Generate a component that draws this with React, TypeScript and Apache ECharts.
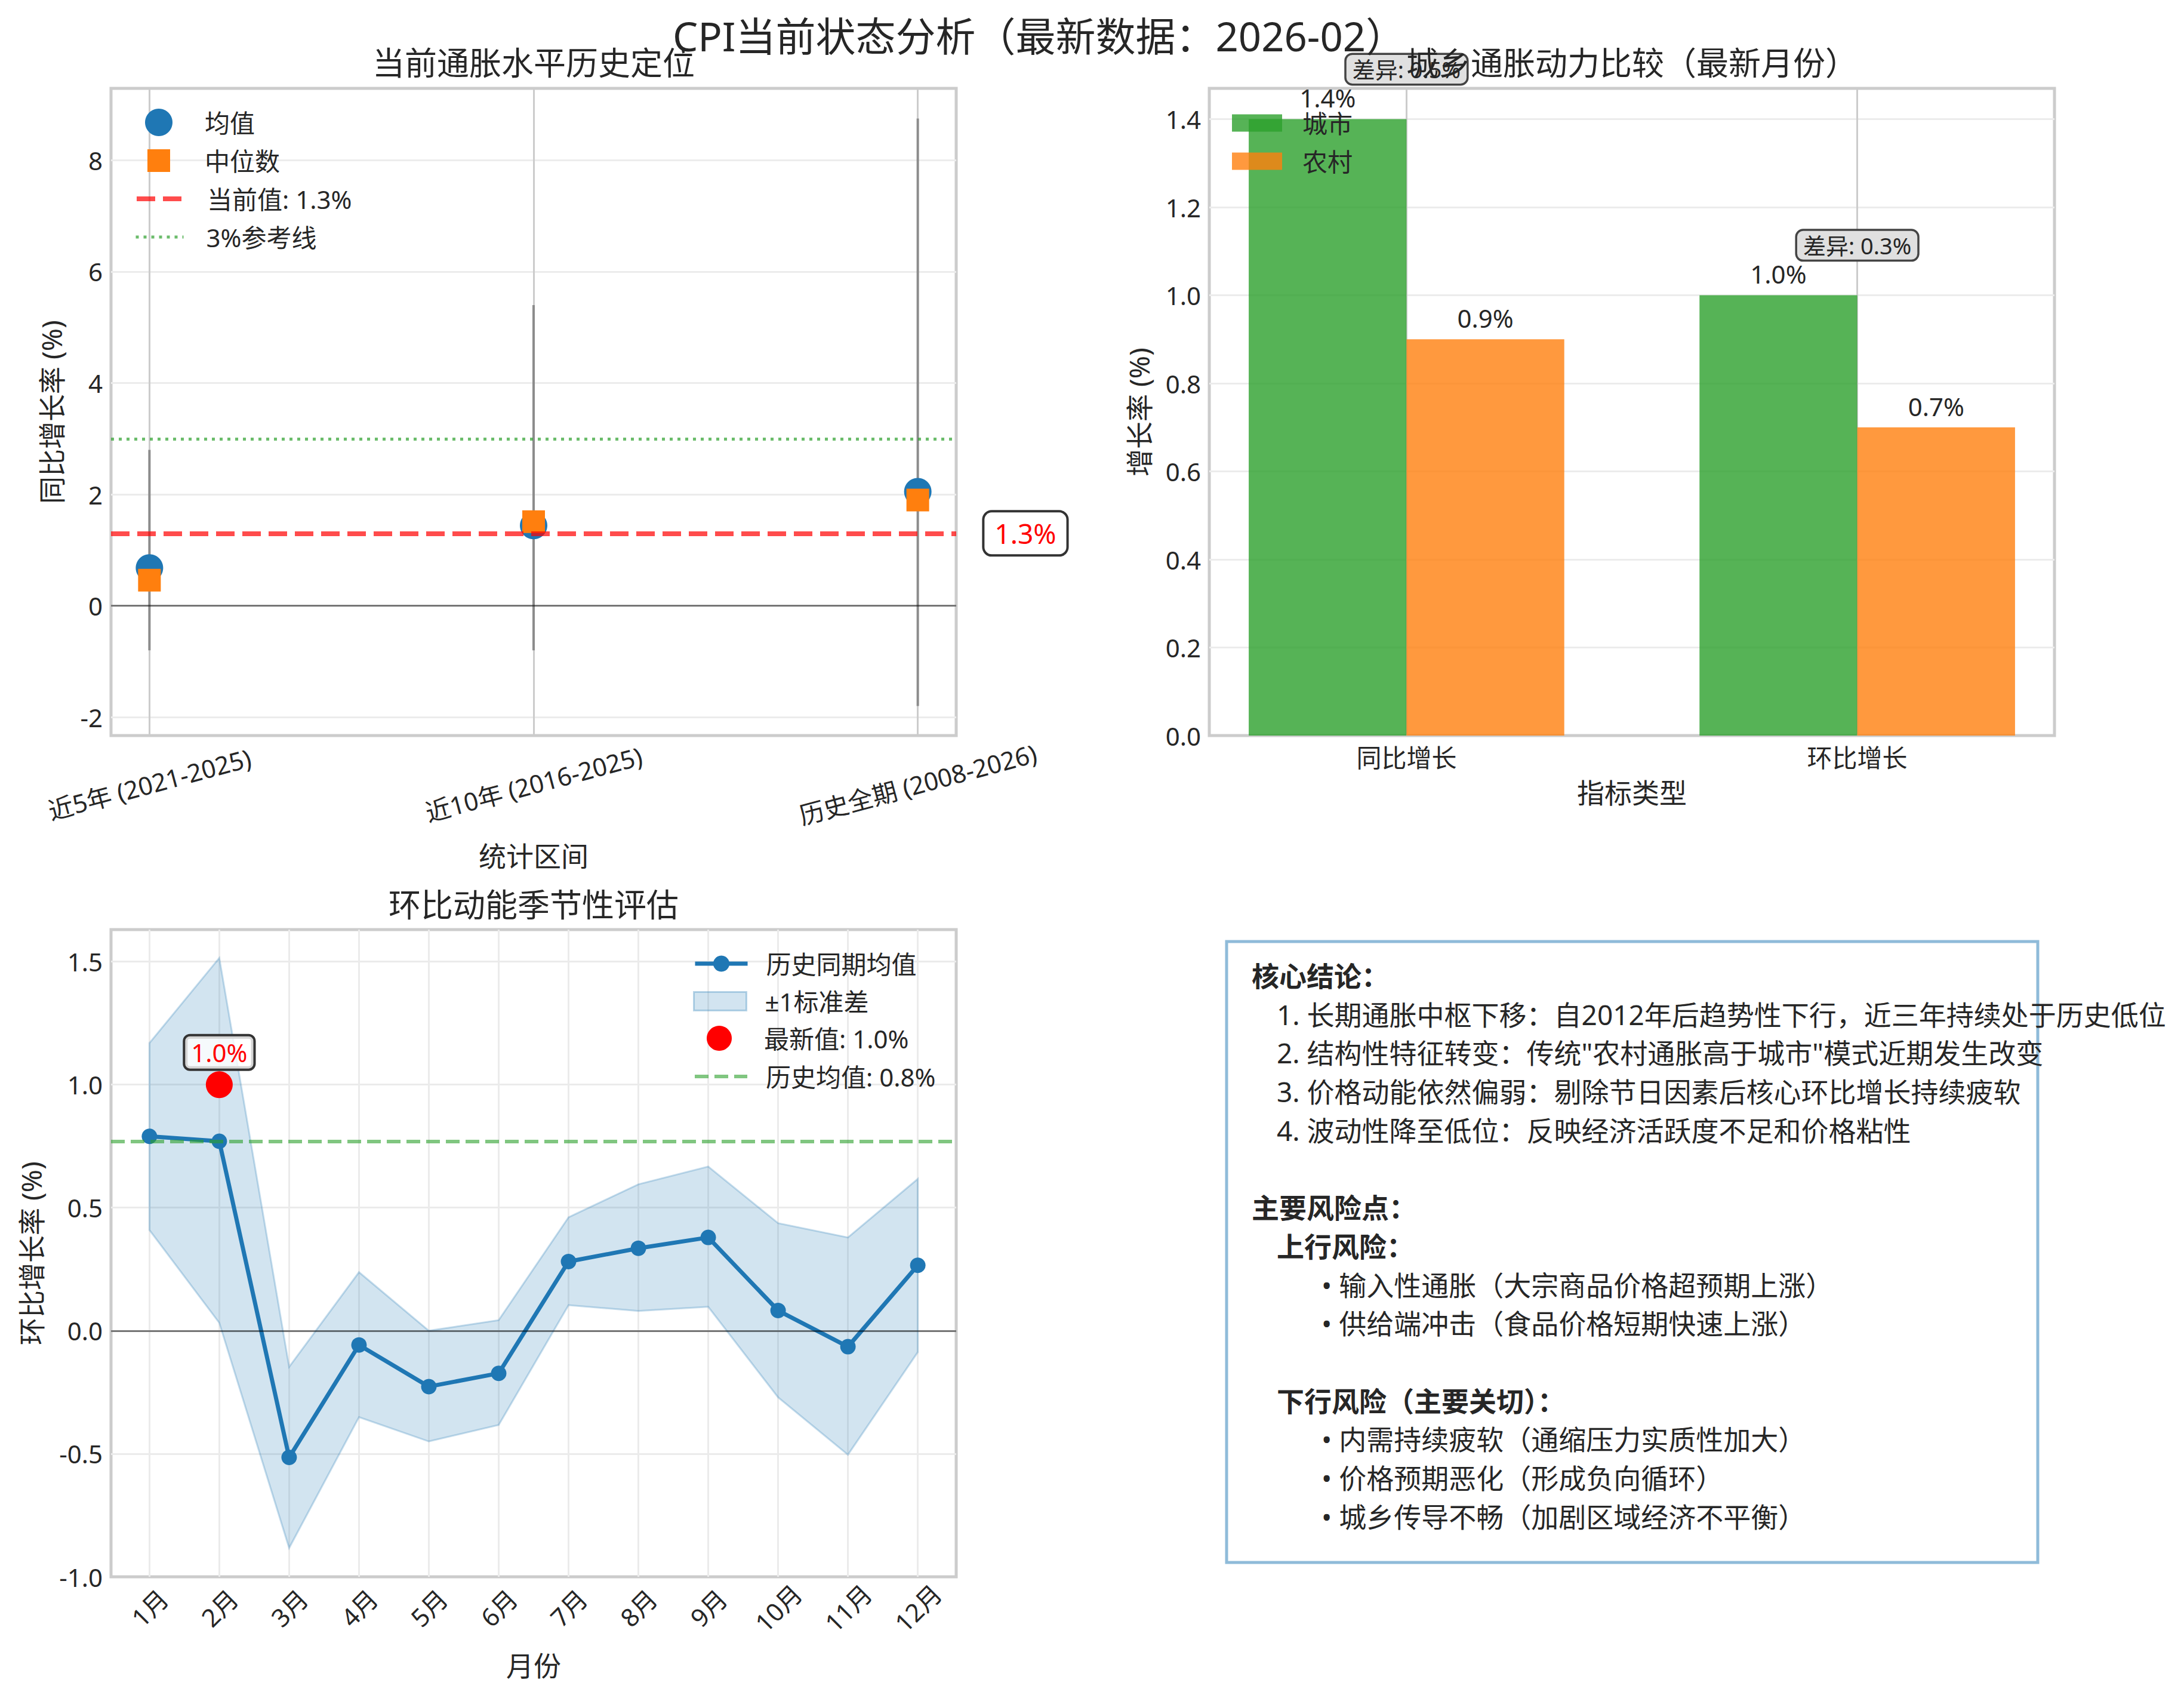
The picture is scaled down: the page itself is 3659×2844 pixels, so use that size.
import React, { useEffect, useRef } from 'react';
import * as echarts from 'echarts';

const W = 3659;
const H = 2844;
const FONT = '"Noto Sans", "Noto Sans CJK SC", sans-serif';
const TEXT = '#262626';

// ---- 当前通胀水平历史定位 ----
const PERIODS = ['近5年 (2021-2025)', '近10年 (2016-2025)', '历史全期 (2008-2026)'];
const PERIOD_MEAN = [0.68, 1.44, 2.05];
const PERIOD_MEDIAN = [0.46, 1.51, 1.9];
const PERIOD_MIN = [-0.8, -0.8, -1.8];
const PERIOD_MAX = [2.8, 5.4, 8.75];
const CURRENT_YOY = 1.3;
const REFERENCE_YOY = 3;
const CURRENT_LABEL_X = 2.2;

// ---- 城乡通胀动力比较 ----
const METRICS = ['同比增长', '环比增长'];
const URBAN = [1.4, 1.0];
const RURAL = [0.9, 0.7];
const BAR_WIDTH = 0.35;

// ---- 环比动能季节性评估 ----
const MONTH_NUMS = [1, 2, 3, 4, 5, 6, 7, 8, 9, 10, 11, 12];
const MONTH_LABELS = ['1月', '2月', '3月', '4月', '5月', '6月', '7月', '8月', '9月', '10月', '11月', '12月'];
const MOM_MEAN = [0.79, 0.77, -0.515, -0.058, -0.227, -0.173, 0.281, 0.335, 0.379, 0.082, -0.065, 0.266];
const MOM_UPPER = [1.169, 1.515, -0.147, 0.238, 0.0, 0.043, 0.461, 0.595, 0.667, 0.437, 0.379, 0.617];
const MOM_LOWER = [0.409, 0.032, -0.883, -0.351, -0.45, -0.383, 0.104, 0.08, 0.097, -0.271, -0.504, -0.087];
const LATEST_MONTH = 2;
const LATEST_MOM = 1.0;
const HIST_MEAN_MOM = 0.77;

// ---- 文本框 ----
const SUMMARY_LINES: { text: string; level: number; bold?: boolean }[] = [
  { text: '核心结论：', level: 0, bold: true },
  { text: '1. 长期通胀中枢下移：自2012年后趋势性下行，近三年持续处于历史低位', level: 1 },
  { text: '2. 结构性特征转变：传统"农村通胀高于城市"模式近期发生改变', level: 1 },
  { text: '3. 价格动能依然偏弱：剔除节日因素后核心环比增长持续疲软', level: 1 },
  { text: '4. 波动性降至低位：反映经济活跃度不足和价格粘性', level: 1 },
  { text: '', level: 0 },
  { text: '主要风险点：', level: 0, bold: true },
  { text: '上行风险：', level: 1, bold: true },
  { text: '• 输入性通胀（大宗商品价格超预期上涨）', level: 2 },
  { text: '• 供给端冲击（食品价格短期快速上涨）', level: 2 },
  { text: '', level: 0 },
  { text: '下行风险（主要关切）：', level: 1, bold: true },
  { text: '• 内需持续疲软（通缩压力实质性加大）', level: 2 },
  { text: '• 价格预期恶化（形成负向循环）', level: 2 },
  { text: '• 城乡传导不畅（加剧区域经济不平衡）', level: 2 },
];

const MAIN_TITLE = 'CPI当前状态分析（最新数据：2026-02）';
const TITLES = ['当前通胀水平历史定位', '城乡通胀动力比较（最新月份）', '环比动能季节性评估'];

const isStep = (v: number, step: number) => Math.abs(v / step - Math.round(v / step)) < 1e-6;

function valueAxis(gridIndex: number, min: number, max: number, step: number, fmt: (v: number) => string, o: any) {
  return {
    type: 'value',
    gridIndex,
    min,
    max,
    minInterval: step,
    maxInterval: step,
    axisLine: { show: false },
    axisTick: { show: false },
    axisLabel: {
      fontSize: 42,
      fontFamily: FONT,
      color: TEXT,
      margin: 14,
      formatter: (v: number) => (isStep(v, step) ? fmt(v) : ''),
      ...(o.label || {}),
    },
    splitLine: {
      show: true,
      showMinLine: false,
      showMaxLine: false,
      lineStyle: { color: o.gridColor, width: 3 },
    },
    name: o.name,
    nameLocation: 'middle',
    nameGap: o.nameGap,
    nameTextStyle: { fontSize: 46, fontFamily: FONT, color: TEXT },
  };
}

function legendAt(name: string, left: number, cy: number, w: number, h: number, textLeft: number, extra: any = {}) {
  return {
    show: true,
    data: [name],
    left,
    top: cy - Math.max(h, 42) / 2,
    padding: 0,
    itemWidth: w,
    itemHeight: h,
    itemGap: 0,
    orient: 'vertical',
    selectedMode: false,
    textStyle: { fontSize: 42, fontFamily: FONT, color: TEXT, padding: [0, 0, 0, textLeft - left - w - 5] },
    ...extra,
  };
}

function textStyle(o: any) {
  const s: any = { fontFamily: FONT, fill: TEXT, ...o };
  if (s.align) s.textAlign = s.align;
  if (s.verticalAlign) s.textVerticalAlign = s.verticalAlign;
  return s;
}

function buildOption() {
  const grids = [
    { left: 186, top: 148, width: 1416, height: 1084 },
    { left: 2026, top: 148, width: 1416, height: 1084 },
    { left: 186, top: 1557, width: 1416, height: 1084 },
  ].map((g) => ({
    ...g,
    show: true,
    borderColor: '#cccccc',
    borderWidth: 5,
    backgroundColor: '#ffffff',
    containLabel: false,
    outerBoundsMode: 'none',
  }));

  const xAxis = [
    valueAxis(0, -0.1, 2.1, 1, (v) => PERIODS[Math.round(v)] ?? '', {
      gridColor: '#cccccc',
      name: '统计区间',
      nameGap: 178,
      label: { rotate: 15, align: 'center', verticalAlign: 'middle', margin: 81 },
    }),
    valueAxis(1, -0.4375, 1.4375, 1, (v) => METRICS[Math.round(v)] ?? '', {
      gridColor: '#cccccc',
      name: '指标类型',
      nameGap: 72,
      label: { margin: 15 },
    }),
    valueAxis(2, 0.45, 12.55, 1, (v) => MONTH_LABELS[Math.round(v) - 1] ?? '', {
      gridColor: '#ebebeb',
      name: '月份',
      nameGap: 125,
      label: { rotate: 45, align: 'center', verticalAlign: 'middle', margin: 52 },
    }),
  ];

  const yAxis = [
    valueAxis(0, -2.33, 9.29, 2, (v) => String(Math.round(v)), {
      gridColor: '#ececec',
      name: '同比增长率 (%)',
      nameGap: 77,
    }),
    valueAxis(1, 0, 1.47, 0.2, (v) => v.toFixed(1), {
      gridColor: '#ececec',
      name: '增长率 (%)',
      nameGap: 95,
    }),
    valueAxis(2, -1.0, 1.63, 0.5, (v) => v.toFixed(1), {
      gridColor: '#ebebeb',
      name: '环比增长率 (%)',
      nameGap: 111,
    }),
  ];

  const redLine = { color: 'rgba(255,0,0,0.7)', width: 8, type: [31, 13] };
  const refLine = { color: 'rgba(44,160,44,0.7)', width: 5, type: [5, 8] };
  const greenDash = { color: 'rgba(44,160,44,0.6)', width: 6, type: [23, 10] };
  const zeroLine = { color: 'rgba(0,0,0,0.5)', width: 3, type: 'solid' };
  const urbanColor = 'rgba(44,160,44,0.8)';
  const ruralColor = 'rgba(255,127,14,0.8)';
  const currentName = `当前值: ${CURRENT_YOY.toFixed(1)}%`;
  const refName = `${REFERENCE_YOY}%参考线`;
  const latestName = `最新值: ${LATEST_MOM.toFixed(1)}%`;
  const histName = `历史均值: ${HIST_MEAN_MOM.toFixed(1)}%`;

  const barSeries = (name: string, values: number[], side: number, color: string) => ({
    type: 'custom',
    name,
    xAxisIndex: 1,
    yAxisIndex: 1,
    z: 2,
    silent: true,
    clip: false,
    itemStyle: { color },
    data: values.map((v, i) => [i + (side * BAR_WIDTH) / 2, v]),
    encode: { x: 0, y: 1 },
    renderItem: (params: any, api: any) => {
      const x = api.value(0);
      const y = api.value(1);
      const a = api.coord([x - BAR_WIDTH / 2, y]);
      const b = api.coord([x + BAR_WIDTH / 2, 0]);
      const t = api.coord([x, y + 0.02]);
      return {
        type: 'group',
        children: [
          { type: 'rect', shape: { x: a[0], y: a[1], width: b[0] - a[0], height: b[1] - a[1] }, style: { fill: color } },
          {
            type: 'text',
            x: t[0],
            y: t[1],
            style: textStyle({ text: `${y.toFixed(1)}%`, fontSize: 42, align: 'center', verticalAlign: 'bottom' }),
          },
        ],
      };
    },
  });

  const series: any[] = [
    // ---------- panel 1 ----------
    {
      type: 'custom',
      name: 'range',
      xAxisIndex: 0,
      yAxisIndex: 0,
      z: 2,
      silent: true,
      data: PERIODS.map((_, i) => [i, PERIOD_MIN[i], PERIOD_MAX[i]]),
      encode: { x: 0, y: [1, 2] },
      renderItem: (params: any, api: any) => {
        const lo = api.coord([api.value(0), api.value(1)]);
        const hi = api.coord([api.value(0), api.value(2)]);
        return {
          type: 'line',
          shape: { x1: lo[0], y1: lo[1], x2: hi[0], y2: hi[1] },
          style: { stroke: '#8c8c8c', lineWidth: 4 },
        };
      },
    },
    {
      type: 'scatter',
      name: '均值',
      xAxisIndex: 0,
      yAxisIndex: 0,
      z: 3,
      silent: true,
      symbol: 'circle',
      symbolSize: 46,
      itemStyle: { color: '#1f77b4', opacity: 1 },
      data: PERIOD_MEAN.map((v, i) => [i, v]),
    },
    {
      type: 'scatter',
      name: '中位数',
      xAxisIndex: 0,
      yAxisIndex: 0,
      z: 4,
      silent: true,
      symbol: 'rect',
      symbolSize: 38,
      itemStyle: { color: '#ff7f0e', opacity: 1 },
      data: PERIOD_MEDIAN.map((v, i) => [i, v]),
    },
    {
      type: 'line',
      name: currentName,
      xAxisIndex: 0,
      yAxisIndex: 0,
      z: 5,
      silent: true,
      symbol: 'none',
      data: [],
      lineStyle: redLine,
      itemStyle: { color: 'rgba(255,0,0,0.7)' },
      markLine: {
        silent: true,
        symbol: ['none', 'none'],
        label: { show: false },
        data: [
          { yAxis: CURRENT_YOY, lineStyle: redLine },
          { yAxis: 0, lineStyle: zeroLine },
        ],
      },
    },
    {
      type: 'line',
      name: refName,
      xAxisIndex: 0,
      yAxisIndex: 0,
      z: 5,
      silent: true,
      symbol: 'none',
      data: [],
      lineStyle: refLine,
      itemStyle: { color: 'rgba(44,160,44,0.7)' },
      markLine: {
        silent: true,
        symbol: ['none', 'none'],
        label: { show: false },
        data: [{ yAxis: REFERENCE_YOY, lineStyle: refLine }],
      },
    },
    {
      type: 'custom',
      name: 'currentLabel',
      xAxisIndex: 0,
      yAxisIndex: 0,
      z: 10,
      silent: true,
      clip: false,
      data: [[CURRENT_LABEL_X, CURRENT_YOY]],
      renderItem: (params: any, api: any) => {
        const p = api.coord([api.value(0), api.value(1)]);
        return {
          type: 'text',
          x: p[0] - 17,
          y: p[1],
          style: textStyle({
            text: `${CURRENT_YOY.toFixed(1)}%`,
            fontSize: 46,
            fill: '#ff0000',
            align: 'left',
            verticalAlign: 'middle',
            backgroundColor: '#ffffff',
            borderColor: '#333333',
            borderWidth: 4,
            borderRadius: 12,
            padding: [12, 17],
          }),
        };
      },
    },
    // ---------- panel 2 ----------
    barSeries('城市', URBAN, -1, urbanColor),
    barSeries('农村', RURAL, 1, ruralColor),
    {
      type: 'custom',
      name: 'diff',
      xAxisIndex: 1,
      yAxisIndex: 1,
      z: 5,
      silent: true,
      clip: false,
      data: METRICS.map((_, i) => [i, Math.max(URBAN[i], RURAL[i]), URBAN[i] - RURAL[i]]),
      renderItem: (params: any, api: any) => {
        const p = api.coord([api.value(0), api.value(1) + 0.1]);
        return {
          type: 'text',
          x: p[0],
          y: p[1] - 10,
          style: textStyle({
            text: `差异: ${api.value(2).toFixed(1)}%`,
            fontSize: 38,
            align: 'center',
            verticalAlign: 'middle',
            backgroundColor: '#e0e0e0',
            borderColor: '#444444',
            borderWidth: 3.5,
            borderRadius: 10,
            padding: [5, 10],
          }),
        };
      },
    },
    // ---------- panel 3 ----------
    {
      type: 'custom',
      name: '±1标准差',
      xAxisIndex: 2,
      yAxisIndex: 2,
      z: 1,
      silent: true,
      itemStyle: { color: 'rgba(31,119,180,0.2)' },
      data: MONTH_NUMS.map((m, i) => [m, MOM_LOWER[i], MOM_UPPER[i]]),
      encode: { x: 0, y: [1, 2] },
      renderItem: (params: any, api: any) => {
        if (params.dataIndexInside !== 0) return null;
        const n = params.dataInsideLength;
        const upper: number[][] = [];
        const lower: number[][] = [];
        for (let j = 0; j < n; j++) {
          upper.push(api.coord([api.value(0, j), api.value(2, j)]));
          lower.push(api.coord([api.value(0, j), api.value(1, j)]));
        }
        return {
          type: 'polygon',
          shape: { points: upper.concat(lower.reverse()) },
          style: { fill: 'rgba(31,119,180,0.2)', stroke: 'rgba(31,119,180,0.25)', lineWidth: 3 },
        };
      },
    },
    {
      type: 'line',
      name: histName,
      xAxisIndex: 2,
      yAxisIndex: 2,
      z: 2,
      silent: true,
      symbol: 'none',
      data: [],
      lineStyle: greenDash,
      itemStyle: { color: 'rgba(44,160,44,0.6)' },
      markLine: {
        silent: true,
        symbol: ['none', 'none'],
        label: { show: false },
        data: [
          { yAxis: HIST_MEAN_MOM, lineStyle: greenDash },
          { yAxis: 0, lineStyle: zeroLine },
        ],
      },
    },
    {
      type: 'line',
      name: '历史同期均值',
      xAxisIndex: 2,
      yAxisIndex: 2,
      z: 3,
      silent: true,
      symbol: 'circle',
      symbolSize: 26,
      showSymbol: true,
      showAllSymbol: true,
      lineStyle: { color: '#1f77b4', width: 7 },
      itemStyle: { color: '#1f77b4' },
      data: MONTH_NUMS.map((m, i) => [m, MOM_MEAN[i]]),
    },
    {
      type: 'scatter',
      name: latestName,
      xAxisIndex: 2,
      yAxisIndex: 2,
      z: 4,
      silent: true,
      symbol: 'circle',
      symbolSize: 45,
      itemStyle: { color: '#ff0000', opacity: 1 },
      data: [[LATEST_MONTH, LATEST_MOM]],
    },
    {
      type: 'custom',
      name: 'latestLabel',
      xAxisIndex: 2,
      yAxisIndex: 2,
      z: 6,
      silent: true,
      clip: false,
      data: [[LATEST_MONTH, LATEST_MOM]],
      renderItem: (params: any, api: any) => {
        const p = api.coord([api.value(0), api.value(1)]);
        return {
          type: 'text',
          x: p[0],
          y: p[1] - 54,
          style: textStyle({
            text: `${LATEST_MOM.toFixed(1)}%`,
            fontSize: 42,
            fill: '#ff0000',
            align: 'center',
            verticalAlign: 'middle',
            backgroundColor: 'rgba(255,255,255,0.8)',
            borderColor: '#333333',
            borderWidth: 4,
            borderRadius: 8,
            padding: [6, 10],
          }),
        };
      },
    },
  ];

  const hideSymbol = { itemStyle: { opacity: 0 } };
  const legend = [
    legendAt('均值', 243, 205, 46, 46, 343),
    legendAt('中位数', 247, 269, 38, 38, 343),
    legendAt(currentName, 225, 333, 78, 24, 343, { ...hideSymbol, lineStyle: redLine }),
    legendAt(refName, 225, 397, 80, 24, 343, { ...hideSymbol, lineStyle: refLine }),
    legendAt('城市', 2064, 206, 84, 29, 2182, { icon: 'rect', itemStyle: { color: urbanColor } }),
    legendAt('农村', 2064, 270, 84, 29, 2182, { icon: 'rect', itemStyle: { color: ruralColor } }),
    legendAt('历史同期均值', 1161, 1614, 88, 34, 1280, { lineStyle: { color: '#1f77b4', width: 7, type: 'solid' } }),
    legendAt('±1标准差', 1161, 1677, 88, 31, 1280, {
      icon: 'rect',
      itemStyle: { color: 'rgba(31,119,180,0.2)', borderColor: 'rgba(31,119,180,0.3)', borderWidth: 3 },
    }),
    legendAt(latestName, 1184, 1739, 42, 42, 1280),
    legendAt(histName, 1161, 1803, 88, 24, 1280, { ...hideSymbol, lineStyle: greenDash }),
  ];

  const levelX = [2097, 2139, 2214];
  const graphicEls: any[] = [
    { type: 'text', x: 1741, y: 60, z: 100, style: textStyle({ text: MAIN_TITLE, fontSize: 67, align: 'center', verticalAlign: 'middle' }) },
    { type: 'text', x: 894, y: 105, z: 100, style: textStyle({ text: TITLES[0], fontSize: 54, align: 'center', verticalAlign: 'middle' }) },
    { type: 'text', x: 2734, y: 105, z: 100, style: textStyle({ text: TITLES[1], fontSize: 54, align: 'center', verticalAlign: 'middle' }) },
    { type: 'text', x: 894, y: 1515, z: 100, style: textStyle({ text: TITLES[2], fontSize: 54, align: 'center', verticalAlign: 'middle' }) },
    {
      type: 'rect',
      z: 50,
      shape: { x: 2055, y: 1577, width: 1359, height: 1040 },
      style: { fill: '#ffffff', stroke: 'rgba(31,119,180,0.5)', lineWidth: 5 },
    },
  ];
  SUMMARY_LINES.forEach((ln, k) => {
    if (!ln.text) return;
    graphicEls.push({
      type: 'text',
      x: levelX[ln.level],
      y: 1634 + k * 64.7,
      z: 60,
      style: textStyle({
        text: ln.text,
        fontSize: 46,
        fontWeight: ln.bold ? 'bold' : 'normal',
        align: 'left',
        verticalAlign: 'middle',
      }),
    });
  });

  return {
    animation: false,
    backgroundColor: '#ffffff',
    textStyle: { fontFamily: FONT },
    grid: grids,
    xAxis,
    yAxis,
    legend,
    series,
    graphic: { elements: graphicEls },
  };
}

export default function App() {
  const ref = useRef<HTMLDivElement>(null);
  useEffect(() => {
    if (!ref.current) return;
    const chart = echarts.init(ref.current, null, { renderer: 'svg' });
    chart.setOption(buildOption() as any);
    return () => chart.dispose();
  }, []);
  return (
    <div
      ref={ref}
      style={{ position: 'absolute', left: 0, top: 0, width: W, height: H, background: '#ffffff' }}
    />
  );
}
